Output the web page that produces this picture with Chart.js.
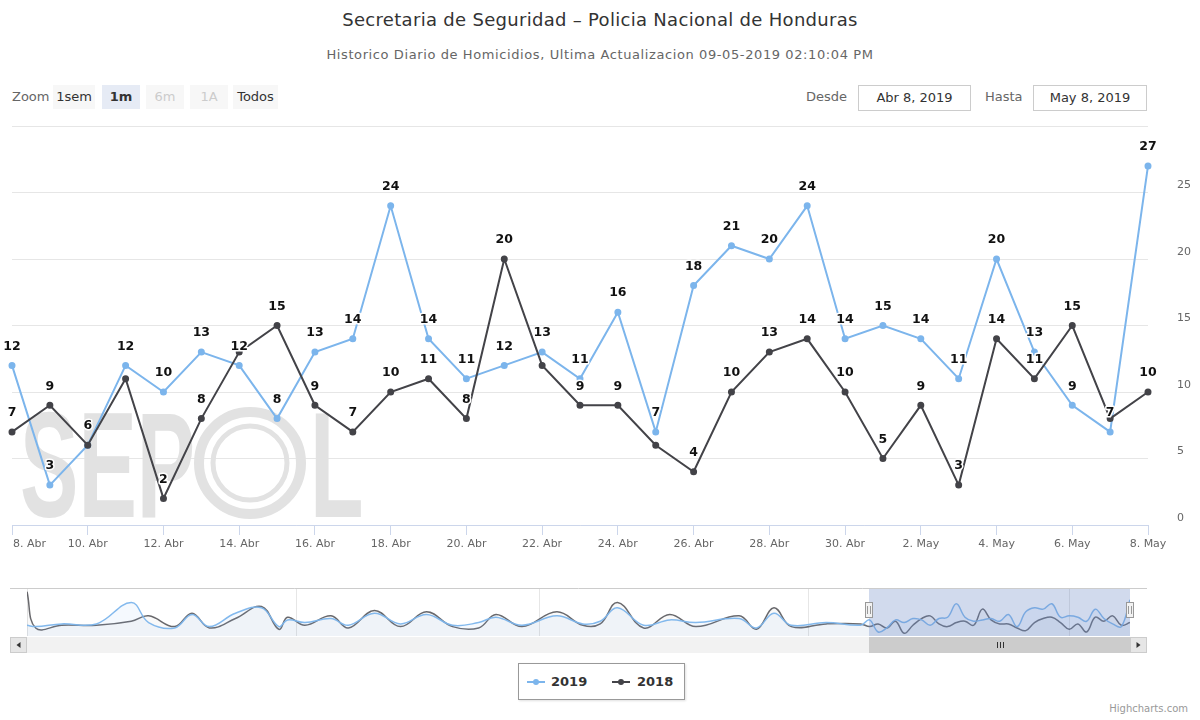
<!DOCTYPE html>
<html>
<head>
<meta charset="utf-8">
<script src="https://cdn.jsdelivr.net/npm/chart.js@4.4.1/dist/chart.umd.min.js"></script>
<style>
  body { margin: 0; background: #fff; font-family: "DejaVu Sans", sans-serif; }
  #wrap { position: relative; width: 1200px; height: 720px; overflow: hidden; }
  .abs { position: absolute; white-space: nowrap; }
  #titulo { top: 8px; left: 0; width: 1200px; text-align: center; font-size: 18px; letter-spacing: 0.3px; color: #333; line-height: 24px; }
  #subtitulo { top: 46px; left: 0; width: 1200px; text-align: center; font-size: 13px; letter-spacing: 0.6px; color: #666; line-height: 18px; }
  .lbl { top: 88px; font-size: 13px; color: #666; line-height: 18px; }
  .btn { top: 85px; height: 24px; line-height: 24px; font-size: 13px; color: #333; background: #f7f7f7; text-align: center; }
  .btn.sel { background: #e6ebf5; font-weight: bold; }
  .btn.off { color: #cccccc; }
  .fecha { top: 85px; height: 24px; line-height: 24px; border: 1px solid #cccccc; font-size: 13px; color: #333; text-align: center; }
  #principal { position: absolute; left: 0; top: 0; }
  #navegador { position: absolute; left: 0; top: 580px; }
  #leyenda { position: absolute; left: 518px; top: 663px; width: 165px; height: 35px; border: 1px solid #999; box-shadow: 1px 1px 2px rgba(0,0,0,0.12); }
  .item { position: absolute; top: 9px; font-size: 13px; font-weight: bold; color: #333; line-height: 18px; }
  .sim { position: absolute; top: 17px; width: 18px; height: 2px; }
  .sim i { position: absolute; left: 6px; top: -2px; width: 6px; height: 6px; border-radius: 3px; }
  #credito { right: 12px; top: 703px; font-size: 10px; color: #999; }
</style>
</head>
<body>
<div id="wrap">
  <div id="titulo" class="abs">Secretaria de Seguridad – Policia Nacional de Honduras</div>
  <div id="subtitulo" class="abs">Historico Diario de Homicidios, Ultima Actualizacion 09-05-2019 02:10:04 PM</div>

  <span class="abs lbl" style="left:12px">Zoom</span>
  <span class="abs btn" style="left:53px;width:42px">1sem</span>
  <span class="abs btn sel" style="left:102px;width:38px">1m</span>
  <span class="abs btn off" style="left:146px;width:38px">6m</span>
  <span class="abs btn off" style="left:190px;width:38px">1A</span>
  <span class="abs btn" style="left:233px;width:45px">Todos</span>

  <span class="abs lbl" style="left:806px">Desde</span>
  <span class="abs fecha" style="left:858px;width:111px">Abr 8, 2019</span>
  <span class="abs lbl" style="left:985px">Hasta</span>
  <span class="abs fecha" style="left:1033px;width:112px">May 8, 2019</span>

  <canvas id="principal" width="1200" height="580"></canvas>
  <canvas id="navegador" width="1200" height="80"></canvas>

  <div id="leyenda">
    <div class="sim" style="left:8px;background:#7cb5ec"><i style="background:#7cb5ec"></i></div>
    <div class="item" style="left:32px">2019</div>
    <div class="sim" style="left:93px;background:#434348"><i style="background:#434348"></i></div>
    <div class="item" style="left:118px">2018</div>
  </div>
  <div id="credito" class="abs">Highcharts.com</div>
</div>

<script>
// dias mostrados (8 abr - 8 may)
const days = ["8. Abr", "9. Abr", "10. Abr", "11. Abr", "12. Abr", "13. Abr", "14. Abr", "15. Abr",
  "16. Abr", "17. Abr", "18. Abr", "19. Abr", "20. Abr", "21. Abr", "22. Abr", "23. Abr", "24. Abr",
  "25. Abr", "26. Abr", "27. Abr", "28. Abr", "29. Abr", "30. Abr", "1. May", "2. May", "3. May",
  "4. May", "5. May", "6. May", "7. May", "8. May"];
const homicidios2019 = [12, 3, 6, 12, 10, 13, 12, 8, 13, 14, 24, 14, 11, 12, 13, 11, 16, 7, 18, 21, 20, 24, 14, 15, 14, 11, 20, 13, 9, 7, 27];
const homicidios2018 = [7, 9, 6, 11, 2, 8, 13, 15, 9, 7, 10, 11, 8, 20, 12, 9, 9, 6, 4, 10, 13, 14, 10, 5, 9, 3, 14, 11, 15, 8, 10];

// navegador: dias desde el 1 de enero, valores aproximados
const navDays = [0, 1, 4, 8, 12, 14, 17, 19, 21, 24, 27, 29, 30, 32, 35, 37, 40, 43, 46, 49, 52, 54, 57, 61, 64, 66, 68, 71, 74, 77, 82, 84, 86, 88, 92, 96];
const nav2018 = [33, 6, 8, 8, 11, 15, 7, 17, 6, 13, 22, 5, 14, 8, 15, 6, 19, 7, 18, 7, 6, 16, 7, 18, 8, 9, 25, 6, 16, 7, 15, 5, 21, 7, 9, 9];
const nav2019 = [8, 7, 9, 9, 25, 10, 6, 16, 7, 17, 21, 7, 12, 10, 13, 8, 17, 9, 16, 8, 10, 14, 8, 15, 9, 11, 21, 8, 12, 10, 13, 6, 17, 8, 10, 8];
const navInicio = 97; // 8 de abril
const navMeses = [0, 31, 59, 90, 120];
const navMesesTxt = ["Ene '19", "Feb '19", "Mar '19", "Abr '19", "May '19"];

const FUENTE = '"DejaVu Sans", sans-serif';

// marca de agua SEPOL
const marcaAgua = {
  id: "marcaAgua",
  beforeDatasetsDraw(chart) {
    const ctx = chart.ctx;
    ctx.save();
    ctx.fillStyle = "#e2e2e2";
    ctx.strokeStyle = "#e2e2e2";
    ctx.font = 'bold 151px "Liberation Sans"';
    ctx.save();
    ctx.translate(20, 517);
    ctx.scale(0.58, 1);
    ctx.fillText("SEP", 0, 0);
    ctx.restore();
    ctx.lineWidth = 10;
    ctx.beginPath(); ctx.arc(250, 463, 51, 0, Math.PI * 2); ctx.stroke();
    ctx.lineWidth = 5;
    ctx.beginPath(); ctx.arc(250, 463, 37, 0, Math.PI * 2); ctx.stroke();
    ctx.save();
    ctx.translate(310, 517);
    ctx.scale(0.58, 1);
    ctx.fillText("L", 0, 0);
    ctx.restore();
    ctx.restore();
  }
};

// etiquetas de datos, se ocultan las que se enciman
const etiquetas = {
  id: "etiquetas",
  afterDatasetsDraw(chart) {
    const ctx = chart.ctx;
    const usados = [];
    ctx.save();
    ctx.font = "bold 12.5px " + FUENTE;
    ctx.textAlign = "center";
    ctx.textBaseline = "middle";
    ctx.lineJoin = "round";
    chart.data.datasets.forEach((ds, di) => {
      chart.getDatasetMeta(di).data.forEach((pt, i) => {
        const txt = String(ds.data[i]);
        const w = ctx.measureText(txt).width + 4;
        const x = pt.x, y = pt.y - 19;
        const box = { l: x - w / 2, r: x + w / 2, t: y - 7, b: y + 7 };
        if (usados.some(u => box.l < u.r && box.r > u.l && box.t < u.b && box.b > u.t)) return;
        usados.push(box);
        ctx.strokeStyle = "#fff";
        ctx.lineWidth = 3;
        ctx.strokeText(txt, x, y);
        ctx.fillStyle = "#111";
        ctx.fillText(txt, x, y);
      });
    });
    ctx.restore();
  }
};

new Chart(document.getElementById("principal"), {
  type: "line",
  data: {
    labels: days,
    datasets: [
      { label: "2019", data: homicidios2019, borderColor: "#7cb5ec", backgroundColor: "#7cb5ec",
        borderWidth: 2, pointRadius: 2.5, pointHoverRadius: 2.5, tension: 0, order: 1 },
      { label: "2018", data: homicidios2018, borderColor: "#434348", backgroundColor: "#434348",
        borderWidth: 2, pointRadius: 2.5, pointHoverRadius: 2.5, tension: 0, order: 0 }
    ]
  },
  options: {
    responsive: false,
    animation: false,
    layout: { padding: { left: 12, top: 126, right: 0, bottom: 0 } },
    plugins: { legend: { display: false }, tooltip: { enabled: false } },
    scales: {
      x: {
        grid: { drawOnChartArea: false, tickLength: 10, color: "#ccd6eb" },
        border: { color: "#ccd6eb" },
        ticks: {
          autoSkip: false, maxRotation: 0, padding: 3, color: "#666",
          font: { size: 11, family: FUENTE },
          callback: (v, i) => i % 2 ? null : (i === 0 ? " ".repeat(10) + days[i] : days[i])
        },
        afterFit(s) { s.height = 55; s.paddingLeft = 0; s.paddingRight = 0; }
      },
      y: {
        position: "right", min: 0, max: 30,
        grid: { color: "#e6e6e6", drawTicks: false },
        border: { display: false },
        ticks: {
          stepSize: 5, padding: 29, labelOffset: -7, color: "#666",
          font: { size: 11, family: FUENTE },
          callback: v => v === 30 ? "" : v
        },
        afterFit(s) { s.width = 52; s.paddingTop = 0; s.paddingBottom = 0; }
      }
    }
  },
  plugins: [marcaAgua, etiquetas]
});

// navegador inferior
function serieNav(previos, actuales) {
  return navDays.map((d, i) => ({ x: d, y: previos[i] }))
    .concat(actuales.map((v, i) => ({ x: navInicio + i, y: v })));
}

const navDecor = {
  id: "navDecor",
  afterDatasetsDraw(chart) {
    const { ctx, chartArea: a, scales: { x } } = chart;
    const x0 = Math.round(x.getPixelForValue(navInicio));
    const x1 = Math.round(x.getPixelForValue(navInicio + days.length - 1));
    ctx.save();
    // zona seleccionada
    ctx.fillStyle = "rgba(102,133,194,0.3)";
    ctx.fillRect(x0, a.top, x1 - x0, a.bottom - a.top);
    // borde superior
    ctx.strokeStyle = "#cccccc";
    ctx.lineWidth = 1;
    ctx.beginPath(); ctx.moveTo(10, a.top - 0.5); ctx.lineTo(1147, a.top - 0.5); ctx.stroke();
    // barra de desplazamiento
    const sy = a.bottom + 1, sh = 16;
    ctx.fillStyle = "#f2f2f2";
    ctx.fillRect(10, sy, 1137, sh);
    ctx.fillStyle = "#cccccc";
    ctx.fillRect(x0, sy, x1 - x0, sh);
    [10, 1130].forEach((bx, k) => {
      ctx.fillStyle = "#e6e6e6";
      ctx.fillRect(bx, sy, 17, sh);
      ctx.strokeStyle = "#cccccc";
      ctx.strokeRect(bx + 0.5, sy + 0.5, 16, sh - 1);
      ctx.fillStyle = "#333";
      ctx.beginPath();
      const cx = bx + 8.5, cy = sy + sh / 2;
      if (k === 0) { ctx.moveTo(cx + 2, cy - 3); ctx.lineTo(cx - 2, cy); ctx.lineTo(cx + 2, cy + 3); }
      else { ctx.moveTo(cx - 2, cy - 3); ctx.lineTo(cx + 2, cy); ctx.lineTo(cx - 2, cy + 3); }
      ctx.fill();
    });
    ctx.strokeStyle = "#333";
    const gx = Math.round((x0 + x1) / 2);
    [-3, 0, 3].forEach(d => {
      ctx.beginPath(); ctx.moveTo(gx + d + 0.5, sy + 5); ctx.lineTo(gx + d + 0.5, sy + 11); ctx.stroke();
    });
    // asas
    [x0, x1].forEach(hx => {
      ctx.fillStyle = "#f2f2f2";
      ctx.fillRect(hx - 4, a.top + 13, 8, 16);
      ctx.strokeStyle = "#999";
      ctx.strokeRect(hx - 3.5, a.top + 13.5, 7, 15);
      ctx.beginPath();
      ctx.moveTo(hx - 1.5, a.top + 17); ctx.lineTo(hx - 1.5, a.top + 25);
      ctx.moveTo(hx + 1.5, a.top + 17); ctx.lineTo(hx + 1.5, a.top + 25);
      ctx.stroke();
    });
    ctx.restore();
  }
};

new Chart(document.getElementById("navegador"), {
  type: "line",
  data: {
    datasets: [
      { data: serieNav(nav2019, homicidios2019), borderColor: "rgba(124,181,236,0.95)",
        backgroundColor: "rgba(124,181,236,0.08)", fill: "origin", borderWidth: 1.5,
        pointRadius: 0, tension: 0.4 },
      { data: serieNav(nav2018, homicidios2018), borderColor: "rgba(67,67,72,0.8)",
        backgroundColor: "rgba(67,67,72,0.03)", fill: "origin", borderWidth: 1.5,
        pointRadius: 0, tension: 0.4 }
    ]
  },
  options: {
    responsive: false,
    animation: false,
    layout: { padding: { left: 27, right: 70, top: 9, bottom: 24 } },
    plugins: { legend: { display: false }, tooltip: { enabled: false } },
    scales: {
      x: {
        type: "linear", min: 0, max: 127,
        afterBuildTicks(s) { s.ticks = navMeses.map(v => ({ value: v })); },
        grid: { color: "#e6e6e6", drawTicks: false },
        border: { display: false },
        ticks: {
          align: "start", padding: -14, labelOffset: 3, color: "rgba(153,153,153,0.6)",
          font: { size: 10, family: FUENTE },
          callback: (v, i) => navMesesTxt[i]
        },
        afterFit(s) { s.height = 0; s.paddingLeft = 0; s.paddingRight = 0; }
      },
      y: { display: false, min: 0, max: 35 }
    }
  },
  plugins: [navDecor]
});
</script>
</body>
</html>
